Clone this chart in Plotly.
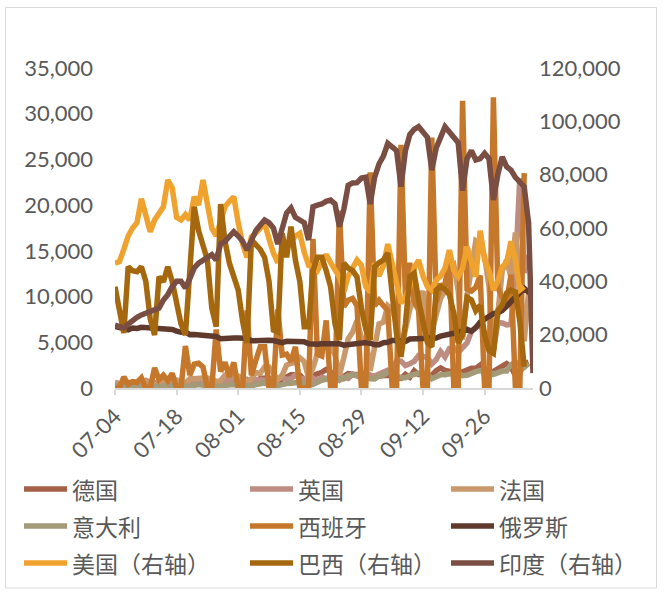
import pandas as pd
import plotly.graph_objects as go

# Daily new confirmed cases, 2020-07-04 .. 2020-10-07
dates = pd.date_range("2020-07-04", "2020-10-07", freq="D")

germany = [
    420, 300, 360, 400, 440, 440, 400,
    380, 300, 260, 370, 530, 510, 580,
    580, 360, 330, 450, 450, 570, 810,
    780, 420, 400, 630, 680, 900, 870,
    950, 560, 510, 880, 740, 1040, 1150,
    1120, 700, 640, 970, 1230, 1450, 1450,
    1420, 900, 860, 1390, 1510, 1710, 2030,
    1740, 1100, 1010, 1280, 1580, 1510, 1570,
    1480, 1000, 1220, 1260, 1310, 1450, 1380,
    1380, 1100, 1050, 1500, 1180, 1890, 1480,
    1630, 1200, 1410, 1900, 2190, 1920, 1820,
    1350, 1250, 1770, 2000, 2170, 2150, 2510,
    1410, 1300, 1800, 2090, 2500, 2670, 2280,
    1410, 1700, 2640, 2830, None,
]
uk = [
    620, 520, 350, 580, 630, 510, 640,
    820, 650, 550, 530, 540, 640, 690,
    830, 730, 580, 450, 560, 770, 770,
    770, 750, 690, 580, 760, 850, 880,
    740, 740, 940, 670, 890, 950, 870,
    760, 1060, 1000, 1150, 940, 1010, 1440,
    1010, 1040, 710, 1090, 810, 1180, 1030,
    1290, 1040, 850, 1180, 1050, 1520, 1280,
    1110, 1720, 1410, 1300, 1510, 1740, 1940,
    1810, 2990, 2950, 2460, 2660, 2920, 3540,
    3500, 3330, 2620, 3100, 3990, 3400, 4320,
    4420, 3900, 4370, 4930, 6180, 6630, 6870,
    6040, 5690, 4040, 7140, 7110, 6910, 6970,
    12870, 22960, 12590, 14540, None,
]
france = [
    580, 400, 300, 520, 600, 660, 660,
    800, 500, 300, 500, 800, 900, 900,
    900, 800, 500, 1000, 1000, 1100, 1100,
    1100, 1000, 700, 800, 1400, 1400, 1400,
    1300, 1100, 600, 1000, 1700, 1600, 2300,
    2300, 1500, 900, 1400, 2500, 2700, 2800,
    3300, 2900, 1100, 2200, 3800, 4800, 4600,
    4600, 3600, 1400, 3300, 5400, 6100, 7400,
    5500, 5400, 1900, 4900, 7000, 7200, 9000,
    8600, 7100, 4200, 6500, 8600, 9800, 9400,
    10600, 7200, 6200, 7900, 9800, 10600, 13200,
    13500, 10600, 5300, 10000, 13100, 16100, 15800,
    14400, 11100, 4100, 8100, 12800, 14000, 12100,
    17000, 12600, 5100, 10500, None,
]
italy = [
    240, 190, 210, 190, 190, 230, 280,
    190, 170, 110, 160, 160, 230, 230,
    250, 220, 130, 190, 280, 380, 310,
    270, 250, 170, 180, 290, 390, 380,
    300, 240, 160, 190, 380, 400, 550,
    350, 460, 260, 410, 480, 520, 570,
    630, 480, 320, 400, 640, 850, 950,
    1070, 1210, 950, 1000, 1370, 1410, 1460,
    1440, 1360, 1000, 980, 1330, 1400, 1730,
    1690, 1300, 1110, 1110, 1370, 1430, 1600,
    1500, 1460, 1010, 1230, 1450, 1450, 1580,
    1640, 1590, 1350, 1390, 1640, 1790, 1910,
    1870, 1770, 1490, 1650, 1850, 1850, 2550,
    2840, 2580, 2260, 2680, None,
]
spain = [
    0, 0, 1200, 400, 700, 600, 1100,
    0, 0, 2200, 900, 1400, 800, 1600,
    0, 0, 4600, 1400, 2600, 2700, 2300,
    0, 0, 6400, 1800, 2800, 1200, 2800,
    0, 0, 8500, 1400, 3000, 4500, 4500,
    0, 0, 8600, 3600, 3700, 2900, 4500,
    0, 0, 0, 16300, 3700, 3500, 7400,
    0, 0, 19400, 8900, 9600, 9800, 9000,
    0, 0, 23600, 9000, 9600, 9000, 8500,
    0, 0, 26600, 10000, 13700, 9500, 8500,
    0, 0, 27400, 9400, 11200, 11300, 14400,
    0, 0, 31400, 10800, 10600, 11000, 12300,
    0, 0, 31800, 11000, 9900, 9400, 12400,
    0, 0, 23500, None, None,
]
russia = [
    6740, 6610, 6610, 6370, 6560, 6510, 6640, 6610, 6620, 6540, 6540, 6420, 6430, 6410,
    6220, 6100, 6140, 5840, 5860, 5810, 5850, 5810, 5770, 5640, 5400, 5470, 5510, 5480,
    5460, 5430, 5430, 5160, 5200, 5270, 5240, 5210, 5190, 5120, 4950, 5100, 5060, 5080,
    5060, 5060, 4840, 4750, 4790, 4840, 4870, 4920, 4850, 4850, 4680, 4740, 4710, 4830,
    4980, 4980, 4900,
    4730, 4730, 4950, 5000, 5190, 5210, 5190, 5100, 5360, 5360, 5450, 5410, 5450, 5500,
    5470, 5670, 5760, 5900, 6070, 6150, 6200, 6430, 6200, 6600, 7210, 7520, 7870, 8140,
    8230, 8480,
    8950, 9410, 9860, 10500, 10900, 10500, 11100,
]
usa = [
    46800, 47400, 52000, 57000, 60000, 62000, 71000,
    64000, 58600, 63000, 66000, 68000, 78000, 75000,
    64000, 63000, 65000, 63000, 71700, 68600, 78000,
    68000, 60000, 57000, 63000, 68000, 70000, 71700,
    62000, 54000, 49000, 56700, 58000, 60000, 61800,
    56000, 50600, 47000, 52000, 54000, 55000, 57000,
    58000, 51000, 46000, 45500, 44000, 47000, 50000,
    47000, 44000, 41600, 36000, 42000, 45000, 48000,
    46000, 38000, 36000, 46800, 42000, 46000, 54000,
    46000, 40000, 31900, 34000, 38000, 45000, 48000,
    42000, 38000, 36700, 40500, 42000, 45000, 51700,
    44000, 41700, 45000, 53000, 47000, 41700, 59000,
    48000, 44000, 36700, 40000, 45500, 47000, 55000,
    48000, 36700, 38000, None, None,
]
brazil = [
    38000, 28000, 20600, 45500, 44000, 43600, 45500,
    40000, 26000, 19900, 41700, 39900, 45500, 40000,
    31800, 24000, 19900, 45000, 68000, 59000, 53000,
    48000, 30000, 23000, 69000, 55000, 46800, 42000,
    36700, 25000, 16900, 55500, 54000, 52000, 49000,
    40000, 21700, 21000, 58000, 49000, 60500, 48000,
    40000, 23000, 23000, 44000, 49000, 49000, 44000,
    38000, 24000, 18000, 46800, 45000, 44000, 41700,
    30000, 22000, 18000, 45500, 47000, 48000, 50600,
    35000, 20000, 11700, 24000, 41700, 43000, 33000,
    24000, 17000, 15500, 36700, 38000, 37000, 35000,
    28000, 16900, 20000, 34000, 33000, 29000, 31000,
    20000, 14000, 13000, 29000, 31000, 35600, 36700,
    36000, 25000, 8000, None, None,
]
india = [
    23600, 23000, 22500, 24000, 25500, 26500, 27400,
    28000, 28600, 29000, 30000, 33000, 35000, 38000,
    40000, 40000, 37500, 41000, 45000, 46800, 48000,
    49000, 50000, 48000, 54000, 55000, 57000, 58600,
    57000, 55000, 51700, 55000, 59000, 61000, 63000,
    62000, 60000, 54000, 60000, 65600, 67500, 64000,
    63000, 62000, 55500, 68000, 68600, 69000, 70000,
    70500, 69000, 60500, 67000, 76000, 76900, 77000,
    78700, 79000, 69000, 79000, 84000, 87000, 91700,
    90000, 89000, 75500, 89000, 95000, 97000, 98000,
    96000, 94000, 81700, 90000, 94000, 98000, 96000,
    94000, 92000, 74000, 86000, 89000, 85500, 86000,
    88000, 86000, 70500, 80000, 86700, 83000, 81700,
    79000, 76900, 75500, 61800, 5600,
]

left_names = ["德国", "英国", "法国", "意大利", "西班牙", "俄罗斯"]
left_values = [germany, uk, france, italy, spain, russia]
right_names = ["美国（右轴）", "巴西（右轴）", "印度（右轴）"]
right_values = [usa, brazil, india]
colors = ["#A5604A", "#BD8C82", "#C9996B", "#A39A78", "#C5782B", "#5F3A2D",
          "#F0A22E", "#A5680F", "#7A4E42"]

left_ticks = list(range(0, 35001, 5000))
right_ticks = list(range(0, 120001, 20000))

W, H = 665, 592
PL, PR, PT, PB = 115, 533, 68, 388   # plot area in page pixels

def fx(px):
    return (px - PL) / (PR - PL)

def fy(py):
    return (PB - py) / (PB - PT)

LINE_W = 5.5

fig = go.Figure()
for name, vals, col in zip(left_names, left_values, colors[:6]):
    fig.add_trace(go.Scatter(x=dates, y=vals, name=name, mode="lines", yaxis="y",
                             line=dict(color=col, width=LINE_W), showlegend=False))
for name, vals, col in zip(right_names, right_values, colors[6:]):
    fig.add_trace(go.Scatter(x=dates, y=vals, name=name, mode="lines", yaxis="y2",
                             line=dict(color=col, width=LINE_W), showlegend=False))

tick_font = dict(family="Lato, 'Liberation Sans', sans-serif", size=22, color="#595959")

fig.update_layout(
    width=W, height=H,
    margin=dict(l=PL, r=W - PR, t=PT, b=H - PB),
    paper_bgcolor="white", plot_bgcolor="white",
    xaxis=dict(
        type="date", range=[dates[0], dates[-1]],
        tick0=dates[0], dtick=14 * 86400000, tickformat="%m-%d", tickangle=-45,
        showgrid=False, zeroline=False,
        showline=True, linecolor="#D9D9D9", linewidth=1.5,
        ticks="outside", ticklen=5, tickcolor="#D9D9D9", tickwidth=1.5,
        tickfont=tick_font,
    ),
    yaxis=dict(
        range=[0, 35000], tickvals=left_ticks,
        ticktext=[f"{v:,}" for v in left_ticks],
        showgrid=False, zeroline=False, showline=False, ticks="",
        tickfont=tick_font, ticklabelstandoff=21,
    ),
    yaxis2=dict(
        range=[0, 120000], tickvals=right_ticks,
        ticktext=[f"{v:,}" for v in right_ticks],
        overlaying="y", side="right",
        showgrid=False, zeroline=False, showline=False, ticks="",
        tickfont=tick_font, ticklabelstandoff=5,
    ),
    showlegend=False,
)

shapes = [dict(type="rect", xref="paper", yref="paper",
               x0=fx(5.5), x1=fx(656.5), y0=fy(588), y1=fy(7.5),
               line=dict(color="#D9D9D9", width=1), fillcolor="rgba(0,0,0,0)", layer="below")]
annotations = []

legend_names = left_names + right_names
text_x = [70, 296, 497]
row_y = [489, 526, 563]
for i, (name, col) in enumerate(zip(legend_names, colors)):
    tx = text_x[i % 3]
    y0 = row_y[i // 3]
    shapes.append(dict(type="line", xref="paper", yref="paper",
                       x0=fx(tx - 46), x1=fx(tx - 3), y0=fy(y0), y1=fy(y0),
                       line=dict(color=col, width=LINE_W)))
    annotations.append(dict(xref="paper", yref="paper", x=fx(tx), y=fy(y0),
                            text=name, showarrow=False, xanchor="left", yanchor="middle",
                            font=dict(family="'Noto Sans CJK SC', sans-serif", size=23,
                                      color="#595959")))

fig.update_layout(shapes=shapes, annotations=annotations)
fig.write_html("out.html")
